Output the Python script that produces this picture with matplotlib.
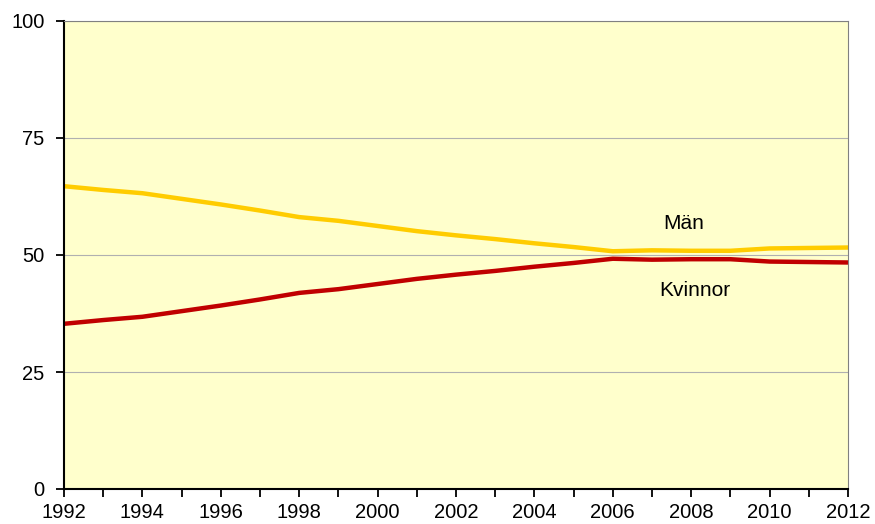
import matplotlib.pyplot as plt
import numpy as np

years = list(range(1992, 2013))
man = [64.7, 63.9, 63.2, 62.0, 60.8, 59.5, 58.1, 57.3, 56.2, 55.1, 54.2,
       53.4, 52.5, 51.7, 50.8, 51.0, 50.9, 50.9, 51.4, 51.5, 51.6]
kvinnor = [35.3, 36.1, 36.8, 38.0, 39.2, 40.5, 41.9, 42.7, 43.8, 44.9, 45.8,
           46.6, 47.5, 48.3, 49.2, 49.0, 49.1, 49.1, 48.6, 48.5, 48.4]
year_labels = [str(y) if y % 2 == 0 else '' for y in years]
y_ticks = [0, 25, 50, 75, 100]

plt.rcParams['font.family'] = ['Liberation Sans', 'DejaVu Sans']

fig = plt.figure(figsize=(8.75, 5.24), dpi=100)
ax = fig.add_axes([64/875, 35/524, 784/875, 468/524])
ax.set_facecolor('#FFFFCC')

ax.plot(years, man, color='#FFCC00', lw=3.2, solid_capstyle='butt')  # Män
ax.plot(years, kvinnor, color='#C00000', lw=3.2, solid_capstyle='butt')  # Kvinnor

ax.set_xlim(1992, 2012)
ax.set_ylim(0, 100)
ax.set_xticks(years)
ax.set_xticklabels(year_labels, fontsize=14.5)
ax.set_yticks(y_ticks)
ax.set_yticklabels([str(v) for v in y_ticks], fontsize=14.5)
ax.tick_params(axis='both', direction='out', length=6, width=1.3, color='black')
ax.tick_params(axis='x', pad=4)
ax.tick_params(axis='y', pad=8)
ax.yaxis.grid(True, color='#B0B0B0', lw=0.8)
ax.set_axisbelow(True)

for s in ['left', 'bottom']:
    ax.spines[s].set_color('black')
    ax.spines[s].set_linewidth(1.5)
for s in ['top', 'right']:
    ax.spines[s].set_color('#808080')
    ax.spines[s].set_linewidth(0.8)

ax.text(2007.8, 56.8, 'Män', fontsize=15, ha='center', va='center')
ax.text(2008.1, 42.4, 'Kvinnor', fontsize=15, ha='center', va='center')

fig.savefig('out.png', dpi=100)
